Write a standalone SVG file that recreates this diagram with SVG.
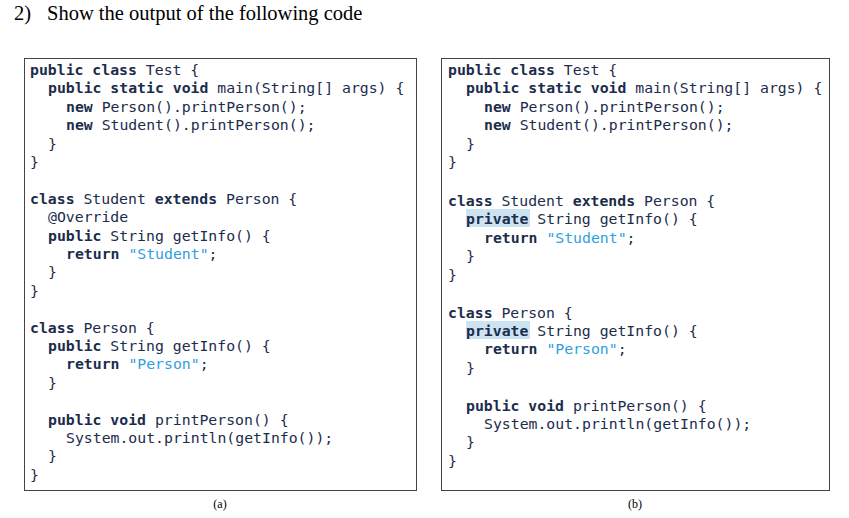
<svg xmlns="http://www.w3.org/2000/svg" width="849" height="518" viewBox="0 0 849 518">
<style>
.c{font-family:"DejaVu Sans Mono","Liberation Mono",monospace;font-size:14.8px;fill:#1c2c4c;white-space:pre}
.k{font-weight:bold}
.s{fill:#2fa0e0}
.t{font-family:"Liberation Serif",serif;fill:#000}
.box{fill:#fff;stroke:#444;stroke-width:1}
.hl{fill:#cce4f2}
</style>
<rect width="849" height="518" fill="#fff"/>
<g class="t" font-size="20.5"><text x="14" y="20">2)</text><text x="47" y="20">Show the output of the following code</text></g>
<g id="boxA">
<rect class="box" x="24.5" y="58.5" width="392" height="432"/>
<text class="c" x="30" y="75"><tspan class="k">public class</tspan> Test {</text>
<text class="c" x="48" y="93.4"><tspan class="k">public static void</tspan> main(String[] args) {</text>
<text class="c" x="66" y="111.8"><tspan class="k">new</tspan> Person().printPerson();</text>
<text class="c" x="66" y="130.2"><tspan class="k">new</tspan> Student().printPerson();</text>
<text class="c" x="48" y="148.6">}</text>
<text class="c" x="30" y="167">}</text>
<text class="c" x="30" y="203.8"><tspan class="k">class</tspan> Student <tspan class="k">extends</tspan> Person {</text>
<text class="c" x="48" y="222.2">@Override</text>
<text class="c" x="48" y="240.6"><tspan class="k">public</tspan> String getInfo() {</text>
<text class="c" x="66" y="259"><tspan class="k">return</tspan> <tspan class="s">"Student"</tspan>;</text>
<text class="c" x="48" y="277.4">}</text>
<text class="c" x="30" y="295.8">}</text>
<text class="c" x="30" y="332.6"><tspan class="k">class</tspan> Person {</text>
<text class="c" x="48" y="351"><tspan class="k">public</tspan> String getInfo() {</text>
<text class="c" x="66" y="369.4"><tspan class="k">return</tspan> <tspan class="s">"Person"</tspan>;</text>
<text class="c" x="48" y="387.8">}</text>
<text class="c" x="48" y="424.6"><tspan class="k">public void</tspan> printPerson() {</text>
<text class="c" x="66" y="443">System.out.println(getInfo());</text>
<text class="c" x="48" y="461.4">}</text>
<text class="c" x="30" y="479.8">}</text>
</g>
<g id="boxB">
<rect class="box" x="441.5" y="58.5" width="388" height="432"/>
<rect class="hl" x="466" y="209" width="64" height="18"/>
<rect class="hl" x="466" y="321" width="64" height="18"/>
<text class="c" x="448" y="75"><tspan class="k">public class</tspan> Test {</text>
<text class="c" x="466" y="93.4"><tspan class="k">public static void</tspan> main(String[] args) {</text>
<text class="c" x="484" y="111.8"><tspan class="k">new</tspan> Person().printPerson();</text>
<text class="c" x="484" y="130.2"><tspan class="k">new</tspan> Student().printPerson();</text>
<text class="c" x="466" y="148.6">}</text>
<text class="c" x="448" y="167">}</text>
<text class="c" x="448" y="206"><tspan class="k">class</tspan> Student <tspan class="k">extends</tspan> Person {</text>
<text class="c" x="466" y="224.4"><tspan class="k">private</tspan> String getInfo() {</text>
<text class="c" x="484" y="242.8"><tspan class="k">return</tspan> <tspan class="s">"Student"</tspan>;</text>
<text class="c" x="466" y="261.2">}</text>
<text class="c" x="448" y="279.6">}</text>
<text class="c" x="448" y="317.6"><tspan class="k">class</tspan> Person {</text>
<text class="c" x="466" y="336"><tspan class="k">private</tspan> String getInfo() {</text>
<text class="c" x="484" y="354.4"><tspan class="k">return</tspan> <tspan class="s">"Person"</tspan>;</text>
<text class="c" x="466" y="372.8">}</text>
<text class="c" x="466" y="410.6"><tspan class="k">public void</tspan> printPerson() {</text>
<text class="c" x="484" y="429">System.out.println(getInfo());</text>
<text class="c" x="466" y="447.4">}</text>
<text class="c" x="448" y="465.8">}</text>
</g>
<text class="t" x="220" y="508" font-size="12" text-anchor="middle">(a)</text>
<text class="t" x="635" y="508" font-size="12" text-anchor="middle">(b)</text>
<g id="connectors"/>
</svg>
